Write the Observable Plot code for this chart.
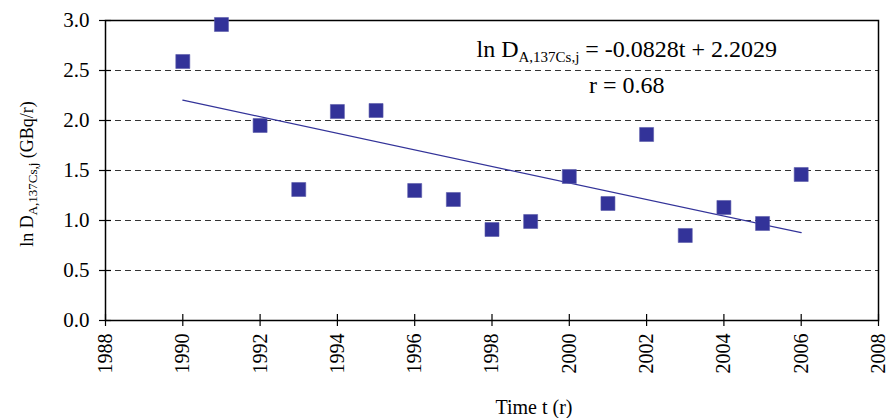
<!DOCTYPE html>
<html><head><meta charset="utf-8">
<script src="https://cdn.jsdelivr.net/npm/d3@7"></script>
<script src="https://cdn.jsdelivr.net/npm/@observablehq/plot@0.6"></script>
<style>
body{margin:0;background:#fff}
</style>
</head><body><div id="chart"></div>
<script>
const years = [1990,1991,1992,1993,1994,1995,1996,1997,1998,1999,2000,2001,2002,2003,2004,2005,2006];
const lnD   = [2.59,2.96,1.95,1.31,2.09,2.10,1.30,1.21,0.91,0.99,1.44,1.17,1.86,0.85,1.13,0.97,1.46];
const trendYears  = [1990, 2006];
const trendValues = [2.2029, 0.8781];
const xTicks = [1988,1990,1992,1994,1996,1998,2000,2002,2004,2006,2008];
const yTicks = [0,0.5,1.0,1.5,2.0,2.5,3.0];
const gridValues = [0.5,1.0,1.5,2.0,2.5];

const points = years.map((t,i)=>({t, v: lnD[i]}));
const trend = trendYears.map((t,i)=>({t, v: trendValues[i]}));
const serif = "Liberation Serif, Times New Roman, serif";

const plot = Plot.plot({
  width: 888, height: 418,
  marginLeft: 105, marginRight: 10, marginTop: 20, marginBottom: 98,
  style: {fontFamily: serif, fontSize: "20px", background: "#fff", color: "#000", overflow: "visible"},
  x: {domain: [1988, 2008]},
  y: {domain: [0, 3]},
  marks: [
    Plot.ruleY(gridValues, {stroke: "#333", strokeDasharray: "6,4", strokeWidth: 1}),
    Plot.frame({stroke: "#000", strokeWidth: 1.5}),
    Plot.axisX({ticks: xTicks, tickSize: 6, tickRotate: -90, tickPadding: 7, tickFormat: d => String(d), label: null, strokeWidth: 1.2, fontSize: 20}),
    Plot.axisX({ticks: xTicks, tickSize: 6, dy: -6, tickFormat: () => "", label: null, strokeWidth: 1.2}),
    Plot.axisY({ticks: yTicks, tickSize: 6, tickPadding: 10, tickFormat: d => d.toFixed(1), label: null, strokeWidth: 1.2, fontSize: 21}),
    Plot.axisY({ticks: yTicks, tickSize: 6, dx: 6, tickFormat: () => "", label: null, strokeWidth: 1.2}),
    Plot.line(trend, {x: "t", y: "v", stroke: "#333399", strokeWidth: 1.2}),
    Plot.dot(points, {x: "t", y: "v", symbol: "square", r: 7.9, fill: "#333399", stroke: "#5a5aaa", strokeWidth: 0.6})
  ]
});
document.getElementById("chart").appendChild(plot);

const svg = d3.select(plot);
const sx = plot.scale("x"), sy = plot.scale("y");

// annotation: regression equation
const eq = svg.append("text")
  .attr("x", sx.apply(2001.5)).attr("y", sy.apply(2.63))
  .attr("text-anchor", "middle").attr("font-size", 24).attr("fill", "#000");
eq.append("tspan").text("ln D");
eq.append("tspan").attr("font-size", 15).attr("dy", 5).text("A,137Cs,j");
eq.append("tspan").attr("dy", -5).text(" = -0.0828t + 2.2029");

svg.append("text")
  .attr("x", sx.apply(2001.5)).attr("y", sy.apply(2.27))
  .attr("text-anchor", "middle").attr("font-size", 24).attr("fill", "#000")
  .text("r = 0.68");

// y axis title
const yl = svg.append("text")
  .attr("transform", "translate(33,174) rotate(-90)")
  .attr("text-anchor", "middle").attr("font-size", 18).attr("fill", "#000");
yl.append("tspan").text("ln D");
yl.append("tspan").attr("font-size", 13).attr("dy", 4).text("A,137Cs,j");
yl.append("tspan").attr("dy", -4).text(" (GBq/r)");

// x axis title
svg.append("text")
  .attr("x", 534).attr("y", 414)
  .attr("text-anchor", "middle").attr("font-size", 20).attr("fill", "#000")
  .text("Time t (r)");

// force serif everywhere (including tick labels)
svg.selectAll("g, text, tspan").attr("font-family", serif).style("font-family", serif);
svg.style("font-family", serif);
</script>
</body></html>
